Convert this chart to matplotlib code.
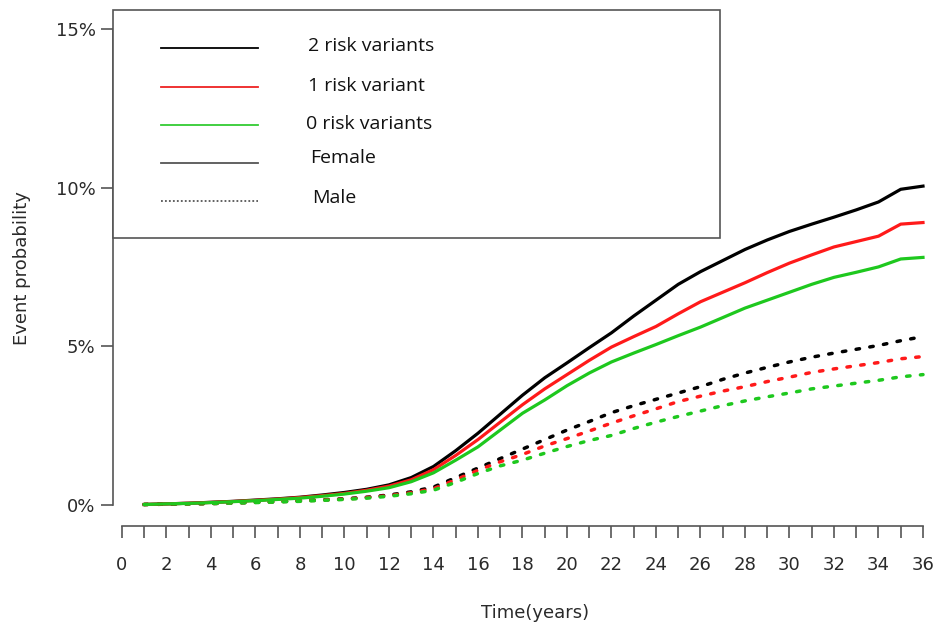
import numpy as np
import matplotlib
matplotlib.use("Agg")
import matplotlib.pyplot as plt
from matplotlib.lines import Line2D
from matplotlib.patches import Rectangle

# follow-up time, years
years = list(range(1, 37))

# female (solid) event probability, %
female_2risk = [0.0, 0.02, 0.04, 0.07, 0.10, 0.14, 0.18, 0.23, 0.30, 0.38, 0.48, 0.62,
                0.85, 1.20, 1.70, 2.25, 2.85, 3.45, 4.00, 4.47, 4.95, 5.42, 5.95, 6.45,
                6.95, 7.35, 7.70, 8.05, 8.35, 8.62, 8.85, 9.07, 9.30, 9.55, 9.95, 10.05]
female_1risk = [0.0, 0.02, 0.04, 0.065, 0.095, 0.13, 0.17, 0.22, 0.28, 0.35, 0.45, 0.58,
                0.78, 1.10, 1.55, 2.05, 2.60, 3.15, 3.65, 4.10, 4.55, 4.97, 5.30, 5.62,
                6.02, 6.40, 6.70, 7.00, 7.32, 7.62, 7.88, 8.13, 8.30, 8.47, 8.85, 8.90]
female_0risk = [0.0, 0.02, 0.035, 0.06, 0.09, 0.12, 0.16, 0.20, 0.26, 0.33, 0.42, 0.53,
                0.72, 1.00, 1.40, 1.82, 2.35, 2.88, 3.30, 3.75, 4.15, 4.50, 4.78, 5.05,
                5.33, 5.60, 5.90, 6.20, 6.45, 6.70, 6.95, 7.17, 7.33, 7.50, 7.75, 7.80]

# male (dotted) event probability, %
male_2risk = [0.0, 0.01, 0.02, 0.03, 0.05, 0.07, 0.09, 0.12, 0.15, 0.18, 0.23, 0.30,
              0.40, 0.55, 0.85, 1.15, 1.45, 1.75, 2.05, 2.35, 2.62, 2.90, 3.12, 3.32,
              3.52, 3.72, 3.95, 4.15, 4.33, 4.50, 4.65, 4.78, 4.90, 5.02, 5.17, 5.30]
male_1risk = [0.0, 0.01, 0.02, 0.03, 0.05, 0.07, 0.09, 0.115, 0.14, 0.17, 0.22, 0.28,
              0.37, 0.50, 0.78, 1.08, 1.35, 1.58, 1.85, 2.08, 2.32, 2.57, 2.80, 3.02,
              3.25, 3.42, 3.58, 3.72, 3.88, 4.02, 4.17, 4.28, 4.38, 4.48, 4.60, 4.67]
male_0risk = [0.0, 0.01, 0.02, 0.03, 0.045, 0.06, 0.08, 0.10, 0.13, 0.16, 0.20, 0.26,
              0.34, 0.45, 0.70, 0.98, 1.22, 1.40, 1.62, 1.83, 2.02, 2.18, 2.40, 2.60,
              2.78, 2.95, 3.12, 3.27, 3.40, 3.52, 3.65, 3.74, 3.83, 3.92, 4.03, 4.10]

colors = {"2": "#000000", "1": "#ff1a1a", "0": "#1ec81e"}
legend_labels = ["2 risk variants", "1 risk variant", "0 risk variants", "Female", "Male"]

W, H = 937, 629
fig = plt.figure(figsize=(W / 100, H / 100), dpi=100)

def fx(x):
    return x / W

def fy(y):
    return 1 - y / H

# axes box in pixels: left spine at x=113, 0% at y=504.5, 15% at y=29.3
ax = fig.add_axes([fx(113), fy(504.5), (930 - 113) / W, (504.5 - 29.3) / H])
ppu = 22.25
ax.set_xlim(-9 / ppu, -9 / ppu + 817 / ppu)
ax.set_ylim(0, 15)

dotted = (0, (1.0, 3.0))
for vals, key in [(female_2risk, "2"), (female_1risk, "1"), (female_0risk, "0")]:
    ax.plot(years, vals, color=colors[key], lw=2.3, clip_on=False, zorder=3)
for vals, key in [(male_2risk, "2"), (male_1risk, "1"), (male_0risk, "0")]:
    ax.plot(years, vals, color=colors[key], lw=2.5, ls=dotted,
            dash_capstyle="round", clip_on=False, zorder=2)

axis_col = "#555555"
txt_col = "#2a2a2a"
for s in ["top", "right"]:
    ax.spines[s].set_visible(False)
ax.spines["left"].set_bounds(0, 15)
ax.spines["bottom"].set_bounds(0, 36)
ax.spines["bottom"].set_position(("outward", 15.5))
for s in ["left", "bottom"]:
    ax.spines[s].set_color(axis_col)
    ax.spines[s].set_linewidth(1.2)

ax.set_yticks([0, 5, 10, 15])
ax.set_yticklabels(["0%", "5%", "10%", "15%"])
ax.set_xticks(range(0, 37, 2))
ax.set_xticks(range(0, 37), minor=True)
ax.tick_params(axis="y", length=8.5, width=1.2, color=axis_col, pad=4,
               labelsize=13, labelcolor=txt_col)
ax.tick_params(axis="x", which="both", length=8.5, width=1.2, color=axis_col,
               pad=13, labelsize=13, labelcolor=txt_col)
for lab in ax.get_xticklabels() + ax.get_yticklabels():
    lab.set_family("DejaVu Sans")

fig.text(fx(22), fy(268), "Event probability", rotation=90, ha="center", va="center",
         fontsize=13, family="DejaVu Sans", color=txt_col)
fig.text(fx(535), fy(613), "Time(years)", ha="center", va="center",
         fontsize=13, family="DejaVu Sans", color=txt_col)

# legend box
fig.add_artist(Rectangle((fx(113), fy(238)), (720 - 113) / W, (238 - 10) / H,
                         transform=fig.transFigure, facecolor="white",
                         edgecolor=axis_col, lw=1.2, zorder=5))
row_y = [48, 87, 125, 163, 201]
text_y = [46, 86, 124, 158, 198]
text_x = [308, 308, 306, 310, 312]
handle_styles = [(colors["2"], "-"), ("#ee2222", "-"), ("#33cc33", "-"),
                 ("#555555", "-"), ("#555555", (0, (1, 1.2)))]
for ly, ty, tx, lab, (c, ls) in zip(row_y, text_y, text_x, legend_labels, handle_styles):
    fig.add_artist(Line2D([fx(161), fx(258)], [fy(ly), fy(ly)], transform=fig.transFigure,
                          color=c, ls=ls, lw=1.3, zorder=6))
    fig.text(fx(tx), fy(ty), lab, ha="left", va="center", fontsize=14,
             family="Open Sans", color="#111111", zorder=6)

fig.savefig("out.png", dpi=100)
